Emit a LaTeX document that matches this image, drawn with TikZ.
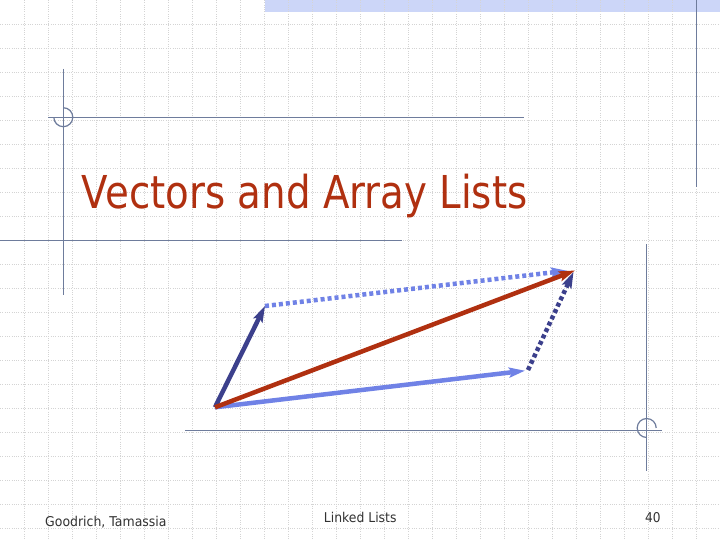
\documentclass[tikz,border=0pt]{standalone}
\usepackage{fontspec}
\setmainfont{DejaVu Sans}
\usetikzlibrary{arrows.meta}
\definecolor{titlered}{RGB}{176,48,16}
\definecolor{vred}{RGB}{176,48,16}
\definecolor{darkblue}{RGB}{60,64,140}
\definecolor{lightblue}{RGB}{112,130,230}
\definecolor{framecol}{RGB}{110,124,156}
\definecolor{barcol}{RGB}{204,214,248}
\definecolor{gridcol}{RGB}{212,212,212}
\definecolor{footcol}{RGB}{50,50,50}
\tikzset{
  frameline/.style={draw=framecol, line width=1.2pt},
  gridline/.style={draw=gridcol, line width=0.6pt, dash pattern=on 0.9pt off 1.4pt},
  vec/.style={line width=4.5pt, -{Stealth[length=16pt,width=10pt,inset=3pt]}},
  dotvec/.style={line width=4.5pt, dash pattern=on 4pt off 3pt, -{Stealth[length=16pt,width=10pt,inset=3pt]}},
  foot/.style={inner sep=0pt, anchor=base west, text=footcol, font=\fontsize{13.5}{14}\selectfont},
}
\begin{document}
\begin{tikzpicture}[x=1pt,y=-1pt]
\useasboundingbox (0,0) rectangle (720,540);
\fill[white] (0,0) rectangle (720,540);
% top bar
\fill[barcol] (265,0) rectangle (720,11.7);
% grid
\foreach \i in {1,...,29} {\draw[gridline] (\i*24,0) -- (\i*24,540);}
\foreach \j in {1,...,22} {\draw[gridline] (0,\j*24) -- (720,\j*24);}
% frame lines
\draw[frameline] (63.3,69) -- (63.3,295);
\draw[frameline] (48,117.3) -- (524,117.3);
\draw[frameline] (63.3,107.7) arc[start angle=-90, end angle=180, radius=9.5];
\draw[frameline] (0,240.5) -- (401.7,240.5);
\draw[frameline] (696.3,0) -- (696.3,186.7);
\draw[frameline] (646.7,244) -- (646.7,470.7);
\draw[frameline] (185,430.5) -- (661.7,430.5);
\draw[frameline] (656.2,428) arc[start angle=0, end angle=-270, radius=9.5];
% title
\node[inner sep=0pt, anchor=base west, text=titlered, font=\fontsize{45.3}{50}\selectfont] (title) at (81.7,209) {\scalebox{0.855}[1]{Vectors and Array Lists}};
% vectors
\coordinate (O) at (215,407.3);
\coordinate (A) at (265,306);
\coordinate (B) at (525,370.7);
\coordinate (Bs) at (528,370);
\coordinate (C) at (575,270.5);
\coordinate (Cl) at (567,270.7);
\coordinate (Cd) at (573.5,272);
\draw[vec, lightblue] (O) -- (B);
\draw[vec, darkblue] (O) -- (A);
\draw[dotvec, lightblue] (A) -- (Cl);
\draw[vec, vred] (O) -- (C);
\draw[dotvec, darkblue] (Bs) -- (Cd);
% footer
\node[foot] (f1) at (45,526) {\scalebox{0.925}[1]{Goodrich, Tamassia}};
\node[foot] (f2) at (323.7,522.7) {\scalebox{0.92}[1]{Linked Lists}};
\node[foot] (f3) at (645,522.5) {\scalebox{0.9}[1]{40}};
\end{tikzpicture}
\end{document}
